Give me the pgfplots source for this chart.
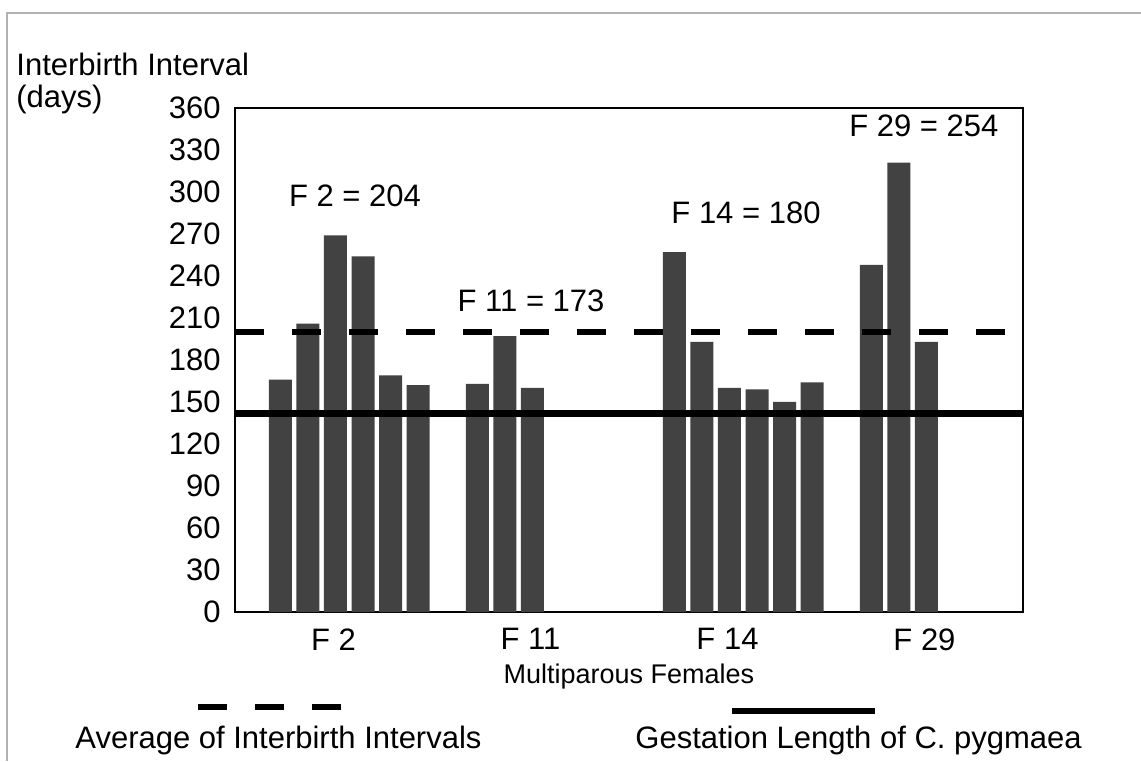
\documentclass[border=0pt]{standalone}
\usepackage{fontspec}
\setmainfont{Liberation Sans}
\usepackage{pgfplots}
\pgfplotsset{compat=1.18}
\definecolor{barcol}{gray}{0.26}
\newcommand{\bigf}{\fontsize{15.5}{18}\selectfont}
\begin{document}
\begin{tikzpicture}
\useasboundingbox (0,0) rectangle (570.5pt,380.5pt);
\draw[gray!60, line width=0.6pt] (3.5pt,0) -- (3.5pt,374pt) -- (570.5pt,374pt);
\begin{axis}[
  at={(117.5pt,74.5pt)}, anchor=south west,
  scale only axis, width=394pt, height=252pt,
  xmin=-0.5, xmax=3.5, ymin=0, ymax=360,
  ytick={0,30,60,90,120,150,180,210,240,270,300,330,360},
  yticklabels={0,30,60,90,120,150,180,210,240,270,300,330,360},
  xtick={0,1,2,3}, xticklabels={F 2, F 11, F 14, F 29},
  tick style={draw=none},
  axis line style={black, line width=0.6pt},
  /pgf/number format/assume math mode=true,
  tick label style={font=\bigf},
  yticklabel style={font=\bigf, anchor=east, inner sep=0pt, xshift=-7pt},
  xticklabel style={font=\bigf, anchor=north, inner sep=0pt, yshift=-8pt},
  clip=false,
]
% F2 (6 intervals), F11 (3), F14 (6), F29 (3)
\addplot[ybar, bar width=0.117, fill=barcol, draw=none] coordinates {
  (-0.27,166) (-0.13,206) (0.01,269) (0.15,254) (0.29,169) (0.43,162)
  (0.73,163) (0.87,197) (1.01,160)
  (1.73,257) (1.87,193) (2.01,160) (2.15,159) (2.29,150) (2.43,164)
  (2.73,248) (2.87,321) (3.01,193)
};
% Average of interbirth intervals
\addplot[black, line width=2.8pt, dash pattern=on 14.5pt off 14pt] coordinates {(-0.5,200) (3.5,200)};
% Gestation length of C. pygmaea
\addplot[black, line width=3.4pt] coordinates {(-0.5,142) (3.5,142)};
\node[font=\bigf] at (axis cs:0.109,297) {F 2 = 204};
\node[font=\bigf] at (axis cs:1.003,222) {F 11 = 173};
\node[font=\bigf] at (axis cs:2.094,285) {F 14 = 180};
\node[font=\bigf] at (axis cs:2.997,347) {F 29 = 254};
\end{axis}
\node[font=\bigf, anchor=base west, inner sep=0pt] at (8pt,342.5pt) {Interbirth Interval};
\node[font=\bigf, anchor=base west, inner sep=0pt] at (8pt,326.5pt) {(days)};
\node[font=\fontsize{13.5}{16}\selectfont, anchor=base, inner sep=0pt] at (314.5pt,38.5pt) {Multiparous Females};
\draw[black, line width=2.8pt, dash pattern=on 14.5pt off 14pt] (99pt,27pt) -- (171pt,27pt);
\draw[black, line width=3pt] (366pt,25pt) -- (437.5pt,25pt);
\node[font=\bigf, anchor=base west, inner sep=0pt] at (37.5pt,6.5pt) {Average of Interbirth Intervals};
\node[font=\bigf, anchor=base west, inner sep=0pt] at (317.5pt,6.5pt) {Gestation Length of C. pygmaea};
\end{tikzpicture}
\end{document}
